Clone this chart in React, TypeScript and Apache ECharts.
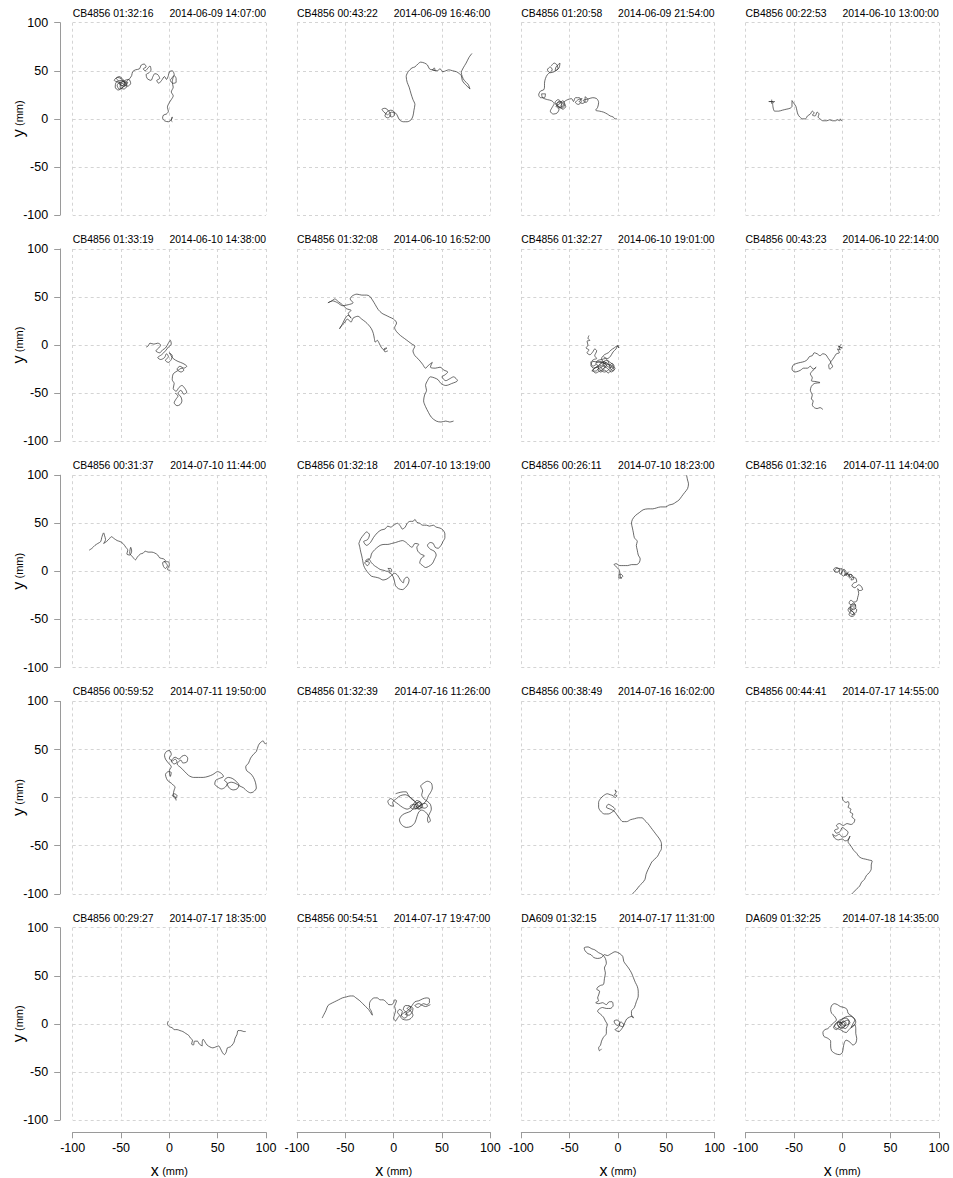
import React, { useEffect, useRef } from "react";
import * as echarts from "echarts";

// Axis ticks shared by every panel (mm)
const TICKS = [-100, -50, 0, 50, 100];

// Panel headers
const STRAINS = [
  "CB4856", "CB4856", "CB4856", "CB4856",
  "CB4856", "CB4856", "CB4856", "CB4856",
  "CB4856", "CB4856", "CB4856", "CB4856",
  "CB4856", "CB4856", "CB4856", "CB4856",
  "CB4856", "CB4856", "DA609", "DA609",
];
const DURATIONS = [
  "01:32:16", "00:43:22", "01:20:58", "00:22:53",
  "01:33:19", "01:32:08", "01:32:27", "00:43:23",
  "00:31:37", "01:32:18", "00:26:11", "01:32:16",
  "00:59:52", "01:32:39", "00:38:49", "00:44:41",
  "00:29:27", "00:54:51", "01:32:15", "01:32:25",
];
const STARTS = [
  "2014-06-09 14:07:00", "2014-06-09 16:46:00", "2014-06-09 21:54:00", "2014-06-10 13:00:00",
  "2014-06-10 14:38:00", "2014-06-10 16:52:00", "2014-06-10 19:01:00", "2014-06-10 22:14:00",
  "2014-07-10 11:44:00", "2014-07-10 13:19:00", "2014-07-10 18:23:00", "2014-07-11 14:04:00",
  "2014-07-11 19:50:00", "2014-07-16 11:26:00", "2014-07-16 16:02:00", "2014-07-17 14:55:00",
  "2014-07-17 18:35:00", "2014-07-17 19:47:00", "2014-07-17 11:31:00", "2014-07-18 14:35:00",
];

type Pt = [number, number];

// Worm tracks, [x, y] in mm
const track01: Pt[] = [[-50,36],[-53,40],[-55,42],[-52,44],[-48,41],[-46,36],[-49,32],[-53,30],[-56,33],[-55,38],[-50,40],[-45,38],[-44,34],[-47,31],[-51,33],[-50,37],[-46,40],[-42,41],[-40,37],[-43,34],[-47,36],[-51,38],[-54,35],[-52,31],[-48,33],[-45,36],[-48,39],[-52,37],[-49,34],[-46,37],[-43,38],[-46,34],[-50,35],[-53,38],[-57,40],[-54,43],[-50,42],[-47,38],[-44,39],[-41,42],[-39,45],[-38,49],[-35,51],[-31,52],[-29,56],[-26,57],[-24,54],[-27,52],[-25,50],[-22,53],[-20,55],[-19,51],[-21,48],[-24,46],[-23,42],[-19,40],[-17,44],[-15,47],[-12,46],[-10,42],[-13,40],[-11,37],[-8,40],[-5,44],[-3,41],[-1,45],[0,49],[3,50],[5,46],[3,43],[1,40],[4,37],[7,38],[7,42],[5,45],[3,38],[4,33],[2,28],[4,24],[2,20],[0,17],[-2,12],[-1,8],[-3,5],[-6,4],[-7,1],[-5,-2],[-1,-3],[2,-1],[3,2],[2,-2],[3,-3]];
const track02: Pt[] = [[-6,4],[-10,7],[-12,10],[-9,11],[-5,8],[-3,4],[-6,1],[-9,3],[-7,7],[-3,9],[0,8],[1,4],[-2,2],[-5,5],[-2,7],[2,6],[4,3],[6,-1],[10,-3],[14,-3],[18,-1],[20,3],[21,9],[22,15],[20,20],[18,26],[16,33],[14,38],[13,44],[15,49],[19,53],[22,54],[25,57],[28,59],[32,58],[35,56],[37,52],[40,51],[42,53],[43,50],[40,51],[45,50],[48,52],[51,49],[54,50],[57,51],[61,50],[65,49],[68,47],[70,45],[71,40],[73,37],[76,34],[79,31],[77,36],[73,40],[71,44],[70,48],[72,53],[75,58],[78,64],[81,68]];
const track03: Pt[] = [[-69,55],[-66,58],[-63,56],[-62,52],[-65,50],[-64,54],[-60,58],[-61,53],[-66,49],[-70,48],[-73,51],[-70,54],[-68,51],[-73,46],[-75,42],[-76,37],[-76,33],[-77,30],[-80,29],[-82,25],[-80,22],[-76,22],[-75,26],[-79,26],[-78,22],[-73,20],[-69,19],[-66,16],[-68,12],[-70,8],[-67,5],[-63,6],[-61,10],[-64,13],[-60,16],[-57,19],[-55,15],[-58,11],[-62,13],[-65,17],[-62,20],[-58,16],[-61,12],[-64,15],[-61,18],[-58,14],[-60,11],[-63,16],[-59,18],[-56,14],[-59,12],[-57,10],[-54,13],[-56,17],[-52,20],[-48,21],[-46,18],[-44,22],[-40,22],[-38,18],[-41,15],[-44,17],[-41,20],[-37,21],[-40,18],[-37,16],[-34,18],[-34,23],[-31,20],[-33,17],[-36,19],[-30,21],[-26,22],[-22,21],[-20,17],[-21,12],[-23,9],[-19,8],[-15,7],[-11,5],[-8,3],[-5,2],[-3,0],[-1,0]];
const track04: Pt[] = [[-73,20],[-73,16],[-72,18],[-76,18],[-70,18],[-72,16],[-70,8],[-66,8],[-62,9],[-58,10],[-54,11],[-52,13],[-52,19],[-50,16],[-48,13],[-47,9],[-46,5],[-44,2],[-41,0],[-38,0],[-36,3],[-33,5],[-31,8],[-29,6],[-31,4],[-28,3],[-26,7],[-24,5],[-25,2],[-23,0],[-20,-2],[-16,-2],[-13,-1],[-10,-2],[-7,-2],[-5,-1],[-3,-2],[-2,0],[-1,-2],[0,-1]];
const track05: Pt[] = [[-24,-2],[-22,-1],[-20,2],[-16,1],[-12,2],[-9,0],[-11,-3],[-14,-6],[-10,-8],[-7,-5],[-4,-3],[-1,2],[1,5],[2,1],[-1,-2],[-4,-6],[-8,-10],[-12,-13],[-9,-15],[-5,-13],[-3,-9],[-1,-12],[-4,-16],[-1,-18],[2,-15],[3,-11],[0,-8],[4,-14],[9,-17],[14,-19],[18,-22],[15,-24],[11,-22],[8,-25],[12,-28],[15,-26],[13,-24],[8,-27],[4,-30],[3,-36],[5,-40],[4,-45],[7,-48],[10,-44],[13,-42],[16,-45],[18,-49],[15,-51],[12,-47],[9,-50],[12,-54],[13,-58],[11,-62],[8,-63],[5,-60],[7,-56],[9,-53],[6,-50]];
const track06: Pt[] = [[-6,-6],[-9,-7],[-10,-4],[-7,-3],[-10,-5],[-13,-2],[-15,2],[-17,5],[-19,3],[-20,7],[-21,12],[-23,17],[-26,21],[-29,24],[-33,27],[-37,30],[-42,28],[-44,24],[-48,27],[-51,23],[-54,20],[-56,17],[-53,22],[-50,28],[-47,31],[-44,28],[-47,33],[-44,36],[-49,38],[-53,42],[-57,45],[-61,48],[-64,46],[-68,44],[-63,46],[-58,44],[-53,41],[-47,42],[-42,44],[-45,48],[-43,51],[-38,53],[-33,52],[-28,52],[-25,51],[-22,47],[-19,42],[-16,37],[-12,33],[-8,31],[-4,29],[0,27],[3,23],[1,18],[3,14],[7,10],[11,7],[15,4],[19,1],[22,-1],[20,-6],[22,-11],[26,-15],[30,-20],[33,-24],[36,-21],[40,-18],[38,-23],[43,-24],[48,-23],[52,-26],[56,-28],[53,-31],[50,-33],[54,-37],[58,-35],[62,-33],[66,-37],[60,-40],[54,-42],[49,-40],[46,-36],[42,-34],[38,-33],[35,-37],[33,-42],[34,-47],[32,-52],[31,-58],[33,-64],[36,-70],[39,-75],[44,-79],[49,-80],[54,-79],[58,-80],[62,-79]];
const track07: Pt[] = [[-30,10],[-31,7],[-29,5],[-32,4],[-31,0],[-33,-3],[-30,-5],[-32,-8],[-29,-10],[-26,-7],[-24,-4],[-22,-6],[-24,-11],[-22,-14],[-25,-15],[-28,-18],[-26,-22],[-22,-20],[-20,-24],[-23,-27],[-27,-27],[-24,-24],[-19,-22],[-16,-25],[-13,-22],[-16,-20],[-12,-18],[-9,-21],[-6,-19],[-4,-22],[-7,-26],[-10,-29],[-14,-26],[-18,-28],[-21,-25],[-17,-23],[-14,-19],[-19,-17],[-23,-19],[-21,-16],[-17,-15],[-13,-14],[-10,-17],[-8,-24],[-5,-27],[-3,-24],[-26,-17],[-28,-21],[-25,-24],[-21,-22],[-18,-19],[-14,-17],[-12,-21],[-15,-25],[-19,-27],[-23,-29],[-26,-26],[-22,-23],[-18,-26],[-14,-28],[-10,-26],[-7,-23],[-4,-25],[-7,-28],[-11,-24],[-15,-22],[-19,-21],[-16,-18],[-12,-16],[-8,-18],[-5,-21],[-9,-23],[-13,-20],[-17,-14],[-14,-10],[-10,-8],[-7,-5],[-4,-3],[-1,-1],[1,-3],[0,0],[-2,-4],[-5,-7],[-8,-12],[-11,-14],[-15,-12]];
const track08: Pt[] = [[-1,1],[-3,-2],[0,-3],[-4,-1],[-2,-5],[-5,-4],[-3,-8],[-6,-9],[-8,-12],[-10,-15],[-12,-18],[-10,-22],[-13,-25],[-14,-21],[-12,-18],[-15,-13],[-17,-10],[-20,-9],[-23,-11],[-26,-9],[-29,-8],[-31,-11],[-34,-12],[-36,-15],[-39,-17],[-43,-18],[-47,-19],[-51,-21],[-52,-25],[-49,-28],[-45,-27],[-43,-26],[-40,-24],[-36,-24],[-33,-22],[-30,-25],[-27,-23],[-31,-27],[-33,-30],[-31,-34],[-32,-37],[-27,-38],[-23,-39],[-29,-40],[-32,-43],[-33,-47],[-31,-52],[-32,-56],[-30,-58],[-31,-62],[-29,-65],[-26,-66],[-23,-65],[-20,-67]];
const track09: Pt[] = [[-83,22],[-80,24],[-77,27],[-74,29],[-71,31],[-70,35],[-68,40],[-67,37],[-66,33],[-68,29],[-65,31],[-62,34],[-60,36],[-57,34],[-54,32],[-51,31],[-48,29],[-45,25],[-43,22],[-44,18],[-41,17],[-39,21],[-40,25],[-41,19],[-38,15],[-35,12],[-33,15],[-30,18],[-27,19],[-25,21],[-22,20],[-18,20],[-15,19],[-12,17],[-10,14],[-6,13],[-4,11],[-7,9],[-6,5],[-4,3],[-2,6],[-5,10],[-1,10],[0,7],[-2,2],[1,1]];
const track10: Pt[] = [[-36,29],[-34,34],[-31,38],[-28,41],[-25,38],[-27,33],[-31,31],[-28,27],[-24,30],[-21,35],[-17,40],[-13,43],[-9,44],[-6,47],[-3,46],[0,48],[4,50],[7,47],[9,44],[12,46],[14,50],[17,52],[20,52],[22,54],[24,51],[27,50],[30,48],[34,48],[37,47],[41,48],[44,46],[48,45],[51,43],[53,39],[53,35],[51,31],[49,27],[46,24],[43,25],[41,29],[38,30],[35,27],[38,23],[42,21],[44,17],[42,12],[40,8],[36,5],[33,4],[30,6],[27,9],[29,14],[32,16],[28,18],[25,21],[24,25],[26,28],[22,29],[19,25],[16,27],[13,30],[9,32],[5,31],[2,30],[-2,29],[-6,28],[-10,28],[-14,27],[-18,24],[-21,21],[-23,18],[-24,14],[-27,11],[-30,9],[-27,6],[-25,9],[-29,11],[-26,13],[-23,9],[-20,6],[-17,4],[-14,2],[-10,1],[-7,0],[-4,1],[-6,3],[-3,3],[-2,0],[-5,-1],[-2,-3],[0,-7],[1,-11],[2,-15],[5,-18],[9,-19],[12,-17],[15,-13],[16,-9],[14,-6],[11,-8],[10,-12],[7,-9],[4,-4],[1,-2],[-3,-5],[-7,-8],[-11,-9],[-15,-7],[-19,-6],[-23,-5],[-26,-2],[-29,2],[-31,6],[-32,11],[-33,16],[-34,20],[-35,25],[-36,29]];
const track11: Pt[] = [[4,-7],[1,-7],[1,-3],[3,-3],[5,-5],[3,-7],[2,-2],[1,2],[-2,5],[-4,7],[-2,8],[2,6],[6,6],[10,6],[14,7],[19,7],[22,9],[23,13],[21,17],[20,22],[19,27],[20,31],[17,35],[16,40],[15,45],[14,50],[15,54],[18,58],[22,61],[26,64],[31,65],[36,65],[40,66],[44,67],[49,67],[53,69],[57,70],[60,72],[63,74],[66,78],[69,82],[72,86],[73,91],[72,95],[71,100]];
const track12: Pt[] = [[-7,-1],[-9,2],[-6,4],[-3,2],[-5,-1],[-8,0],[-6,3],[-2,3],[-3,-1],[-2,-3],[0,0],[-1,3],[2,1],[3,-3],[1,-5],[-1,-2],[2,2],[4,-1],[4,-4],[6,-1],[5,-4],[2,-4],[5,-2],[8,-6],[7,-3],[10,-4],[8,-7],[6,-5],[9,-3],[12,-8],[9,-9],[11,-6],[14,-7],[15,-11],[12,-12],[10,-15],[13,-17],[17,-14],[20,-16],[21,-19],[18,-20],[16,-18],[17,-23],[16,-27],[15,-31],[12,-32],[9,-30],[7,-33],[10,-35],[13,-34],[14,-38],[11,-40],[8,-37],[6,-40],[8,-43],[11,-45],[14,-43],[15,-40],[12,-38],[9,-41],[7,-45],[10,-47],[13,-45],[11,-42],[8,-39],[11,-36],[14,-36],[12,-33],[9,-35],[8,-40],[12,-43],[10,-46]];
const track13: Pt[] = [[7,-3],[6,1],[3,2],[5,4],[8,2],[6,-1],[4,3],[5,8],[6,11],[4,13],[2,15],[-1,17],[-3,20],[-4,24],[-1,27],[2,26],[1,22],[0,28],[2,32],[-1,36],[-4,40],[-5,44],[-3,48],[0,49],[2,45],[0,41],[3,38],[6,40],[8,37],[5,35],[2,38],[6,42],[10,40],[13,43],[16,44],[19,41],[18,37],[14,36],[12,39],[8,35],[12,31],[16,27],[20,23],[25,21],[30,21],[35,21],[40,22],[45,24],[50,27],[54,25],[56,22],[52,20],[48,18],[47,14],[50,11],[54,9],[58,11],[60,15],[57,18],[61,21],[65,20],[69,17],[72,13],[70,9],[66,8],[62,10],[60,14],[64,16],[68,15],[73,12],[77,10],[80,7],[84,5],[87,6],[90,10],[89,16],[87,21],[84,25],[80,28],[79,32],[82,36],[84,41],[87,45],[90,48],[92,54],[94,57],[97,59],[99,56],[101,57]];
const track14: Pt[] = [[22,-8],[25,-5],[28,-7],[26,-10],[23,-9],[27,-12],[30,-9],[28,-5],[24,-3],[21,-6],[18,-10],[14,-12],[9,-10],[5,-7],[1,-4],[-3,-1],[-6,-4],[-4,-8],[0,-9],[-1,-5],[3,-1],[7,2],[12,3],[16,1],[20,-2],[23,-6],[21,-10],[18,-14],[13,-16],[9,-18],[6,-23],[8,-28],[13,-31],[18,-30],[22,-26],[24,-20],[26,-15],[29,-13],[33,-15],[36,-19],[38,-24],[36,-26],[35,-22],[37,-17],[39,-12],[38,-7],[35,-4],[31,-1],[29,3],[30,7],[28,12],[31,15],[35,17],[39,15],[40,10],[38,5],[36,2],[34,-3],[31,-6],[27,-9],[24,-11],[20,-12],[17,-9],[21,-7],[25,-8],[28,-10],[32,-11],[35,-9],[33,-6],[29,-7],[26,-9],[23,-12],[21,-9],[24,-6],[27,-4],[29,-8],[26,-12],[23,-10],[25,-7],[22,-4],[18,-1],[15,3],[13,6],[10,6],[5,5],[2,4]];
const track15: Pt[] = [[-1,6],[-3,8],[-2,5],[-4,3],[-1,2],[-3,0],[-5,2],[-8,3],[-11,4],[-15,2],[-18,-1],[-20,-5],[-20,-10],[-18,-14],[-14,-17],[-10,-17],[-6,-15],[-3,-12],[-6,-9],[-10,-7],[-12,-10],[-8,-12],[-4,-14],[-1,-18],[2,-22],[5,-25],[9,-25],[13,-23],[17,-22],[21,-21],[25,-21],[28,-24],[31,-27],[34,-31],[37,-35],[40,-39],[43,-43],[45,-48],[45,-53],[43,-57],[41,-61],[38,-64],[35,-67],[33,-71],[31,-75],[29,-80],[28,-85],[25,-89],[22,-92],[19,-96],[16,-99],[14,-102]];
const track16: Pt[] = [[0,1],[1,-3],[4,-5],[6,-4],[7,-7],[6,-10],[9,-12],[8,-15],[11,-17],[10,-20],[13,-23],[12,-26],[9,-28],[5,-27],[1,-29],[-3,-27],[-6,-29],[-4,-32],[-8,-34],[-6,-37],[-2,-35],[0,-31],[3,-33],[6,-36],[4,-40],[0,-41],[-3,-38],[-7,-40],[-10,-38],[-8,-42],[-4,-44],[0,-43],[3,-45],[6,-44],[8,-40],[6,-46],[8,-49],[10,-52],[12,-55],[15,-58],[17,-61],[20,-63],[24,-64],[28,-65],[31,-66],[30,-70],[30,-74],[28,-78],[25,-81],[23,-85],[20,-88],[18,-92],[15,-95],[12,-98],[9,-101],[7,-104]];
const track17: Pt[] = [[-1,3],[-2,0],[0,-3],[3,-4],[5,-6],[8,-6],[11,-7],[14,-8],[17,-10],[20,-12],[22,-15],[24,-17],[23,-21],[25,-22],[26,-18],[29,-18],[31,-21],[34,-23],[34,-19],[35,-16],[37,-19],[39,-22],[42,-24],[45,-25],[48,-24],[51,-23],[53,-26],[55,-30],[57,-32],[59,-29],[60,-25],[63,-24],[65,-22],[67,-19],[68,-15],[70,-11],[71,-7],[74,-7],[77,-8],[79,-8]];
const track18: Pt[] = [[-74,6],[-72,10],[-70,14],[-68,19],[-65,21],[-61,23],[-57,25],[-53,27],[-49,28],[-45,29],[-42,29],[-39,27],[-35,24],[-32,21],[-29,18],[-26,15],[-24,12],[-22,9],[-23,13],[-25,17],[-25,21],[-23,25],[-20,27],[-17,27],[-14,25],[-11,25],[-8,23],[-5,20],[-2,20],[0,22],[1,25],[3,24],[2,21],[1,18],[2,14],[1,10],[0,6],[2,3],[4,6],[6,9],[4,12],[6,15],[9,13],[8,9],[11,6],[14,8],[13,12],[10,15],[12,19],[16,19],[18,15],[15,12],[12,10],[16,9],[19,12],[20,16],[17,18],[14,16],[18,13],[20,9],[17,5],[13,4],[9,5],[7,8],[10,11],[15,14],[19,19],[22,23],[26,24],[30,26],[34,27],[37,26],[37,22],[34,20],[31,21],[28,19],[25,17],[22,19],[26,21],[30,19],[33,18],[36,19],[38,20]];
const track19: Pt[] = [[0,-2],[-3,0],[-4,3],[-1,4],[2,1],[0,-4],[-3,-6],[1,-8],[4,-5],[6,-1],[3,2],[1,-1],[5,-3],[7,1],[9,5],[12,7],[15,8],[16,6],[14,9],[14,13],[17,17],[19,23],[21,29],[21,34],[20,39],[18,43],[16,48],[14,53],[11,58],[8,62],[6,65],[5,70],[2,73],[-3,75],[-7,73],[-11,71],[-14,72],[-17,69],[-21,68],[-25,69],[-28,72],[-31,73],[-34,76],[-35,79],[-31,80],[-27,78],[-24,77],[-20,74],[-16,72],[-13,68],[-12,63],[-14,58],[-13,53],[-14,47],[-15,41],[-18,40],[-21,38],[-22,36],[-19,34],[-20,30],[-21,27],[-20,24],[-23,22],[-20,21],[-16,22],[-12,20],[-9,23],[-6,23],[-5,19],[-8,16],[-12,16],[-16,17],[-20,15],[-21,13],[-18,10],[-15,7],[-13,3],[-11,-1],[-12,-5],[-12,-10],[-15,-14],[-17,-18],[-18,-22],[-20,-25],[-19,-28],[-17,-26]];
const track20: Pt[] = [[-2,-1],[1,3],[4,1],[2,-3],[-2,-4],[-5,-1],[-4,3],[0,5],[4,6],[7,3],[6,-2],[3,-5],[0,-3],[-3,0],[-1,4],[3,7],[8,8],[12,6],[14,2],[12,-2],[9,-4],[11,0],[13,4],[10,8],[6,11],[5,15],[2,17],[-2,18],[-5,20],[-8,21],[-11,19],[-12,15],[-11,11],[-8,8],[-6,4],[-9,1],[-12,-2],[-15,-5],[-18,-6],[-20,-9],[-19,-13],[-15,-15],[-12,-18],[-12,-23],[-11,-28],[-7,-31],[-3,-32],[0,-30],[1,-25],[2,-20],[4,-17],[8,-19],[11,-22],[14,-20],[15,-15],[14,-10],[14,-5],[13,-1],[10,-3],[7,-6],[4,-9],[1,-8],[-2,-6],[-5,-5],[-8,-3],[-6,1],[-3,2],[0,0],[-3,-3],[-6,-6],[-9,-4],[-7,0],[-4,2],[-1,1],[2,-2],[5,-1],[8,1],[6,4],[3,3],[0,1],[-4,-2],[-1,-5],[3,-2],[1,2],[-2,1]];

const TRACKS: Pt[][] = [
  track01, track02, track03, track04,
  track05, track06, track07, track08,
  track09, track10, track11, track12,
  track13, track14, track15, track16,
  track17, track18, track19, track20,
];

// Page layout (px)
const NCOL = 4;
const NROW = 5;
const COL_LEFT = 72.7;
const COL_STEP = 224.3;
const PANEL_W = 193.3;
const ROW_TOP = 22.7;
const ROW_STEP = 226.25;
const PANEL_H = 192.3;

const FONT = "'Liberation Sans', Arial, Helvetica, sans-serif";
const GRID_COLOR = "#d4d4d4";
const AXIS_COLOR = "#9a9a9a";

function buildOption() {
  const grids: any[] = [];
  const xAxes: any[] = [];
  const yAxes: any[] = [];
  const series: any[] = [];
  const graphics: any[] = [];

  const splitLine = {
    show: true,
    lineStyle: { color: GRID_COLOR, type: [3, 3], width: 1 },
  };
  const tickMin = TICKS[0];
  const tickMax = TICKS[TICKS.length - 1];
  const tickStep = TICKS[1] - TICKS[0];

  TRACKS.forEach((track, i) => {
    const r = Math.floor(i / NCOL);
    const c = i % NCOL;
    const left = COL_LEFT + c * COL_STEP;
    const top = ROW_TOP + r * ROW_STEP;
    const isBottom = r === NROW - 1;
    const isLeft = c === 0;

    grids.push({ left, top, width: PANEL_W, height: PANEL_H, containLabel: false });

    xAxes.push({
      type: "value",
      gridIndex: i,
      position: "bottom",
      min: tickMin,
      max: tickMax,
      interval: tickStep,
      offset: isBottom ? 12.3 : 0,
      axisLine: { show: isBottom, onZero: false, lineStyle: { color: AXIS_COLOR, width: 1 } },
      axisTick: { show: isBottom, length: 6, lineStyle: { color: AXIS_COLOR } },
      axisLabel: {
        show: isBottom,
        margin: 9,
        color: "#000",
        fontSize: 12.5,
        fontFamily: FONT,
        showMinLabel: true,
        showMaxLabel: true,
      },
      splitLine,
    });

    yAxes.push({
      type: "value",
      gridIndex: i,
      position: "left",
      min: tickMin,
      max: tickMax,
      interval: tickStep,
      offset: isLeft ? 12.5 : 0,
      axisLine: { show: isLeft, onZero: false, lineStyle: { color: AXIS_COLOR, width: 1 } },
      axisTick: { show: isLeft, length: 6, lineStyle: { color: AXIS_COLOR } },
      axisLabel: {
        show: isLeft,
        margin: 12,
        color: "#000",
        fontSize: 12.5,
        fontFamily: FONT,
        showMinLabel: true,
        showMaxLabel: true,
      },
      splitLine,
    });

    series.push({
      type: "line",
      xAxisIndex: i,
      yAxisIndex: i,
      data: track,
      showSymbol: false,
      symbol: "none",
      smooth: 0.3,
      clip: true,
      silent: true,
      lineStyle: { color: "#2b2b2b", width: 0.7 },
    });

    // Panel header: strain + recording length on the left, start time on the right
    const titleY = top - 9.7;
    graphics.push({
      type: "text",
      x: left,
      y: titleY,
      silent: true,
      style: {
        text: `${STRAINS[i]} ${DURATIONS[i]}`,
        fontSize: 10.4,
        fontFamily: FONT,
        fill: "#000",
        align: "left",
        verticalAlign: "middle",
      },
    });
    graphics.push({
      type: "text",
      x: left + PANEL_W,
      y: titleY,
      silent: true,
      style: {
        text: STARTS[i],
        fontSize: 10.4,
        fontFamily: FONT,
        fill: "#000",
        align: "right",
        verticalAlign: "middle",
      },
    });

    if (isLeft) {
      graphics.push({
        type: "text",
        x: 18.5,
        y: top + PANEL_H / 2,
        rotation: Math.PI / 2,
        silent: true,
        style: {
          text: "{a|y} {b|(mm)}",
          align: "center",
          verticalAlign: "middle",
          fill: "#000",
          rich: {
            a: { fontSize: 16, fontFamily: FONT, fill: "#000" },
            b: { fontSize: 11, fontFamily: FONT, fill: "#000" },
          },
        },
      });
    }
    if (isBottom) {
      graphics.push({
        type: "text",
        x: left + PANEL_W / 2,
        y: 1170.5,
        silent: true,
        style: {
          text: "{a|x} {b|(mm)}",
          align: "center",
          verticalAlign: "middle",
          fill: "#000",
          rich: {
            a: { fontSize: 16, fontFamily: FONT, fill: "#000" },
            b: { fontSize: 11, fontFamily: FONT, fill: "#000" },
          },
        },
      });
    }
  });

  return {
    animation: false,
    backgroundColor: "#ffffff",
    grid: grids,
    xAxis: xAxes,
    yAxis: yAxes,
    series,
    graphic: graphics,
  };
}

export default function App() {
  const ref = useRef<HTMLDivElement>(null);

  useEffect(() => {
    if (!ref.current) return;
    const chart = echarts.init(ref.current, undefined, { renderer: "svg" });
    chart.setOption(buildOption());
    return () => chart.dispose();
  }, []);

  return (
    <div
      ref={ref}
      style={{
        position: "absolute",
        left: 0,
        top: 0,
        width: 953,
        height: 1178,
        background: "#fff",
      }}
    />
  );
}
